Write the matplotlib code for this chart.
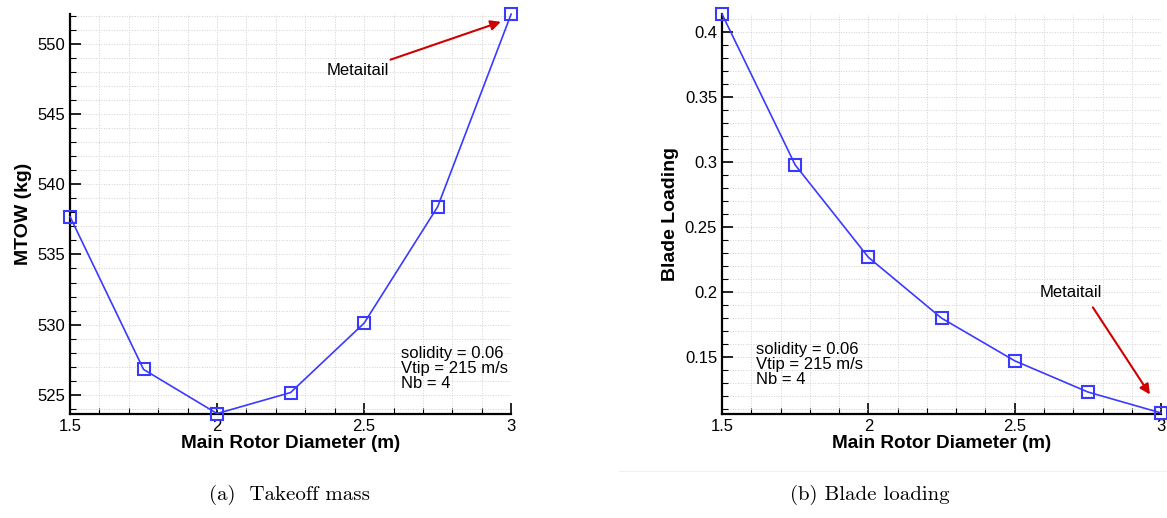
import numpy as np
import matplotlib.pyplot as plt
from matplotlib.ticker import MultipleLocator, FormatStrFormatter

# Data
diameter = [1.5, 1.75, 2.0, 2.25, 2.5, 2.75, 3.0]
mtow = [537.7, 526.8, 523.65, 525.15, 530.1, 538.4, 552.15]
blade_loading = [0.4135, 0.2975, 0.2265, 0.1797, 0.1469, 0.1229, 0.1068]
note = "solidity = 0.06\nVtip = 215 m/s\nNb = 4"

plt.rcParams['font.family'] = ['Liberation Sans', 'DejaVu Sans']

fig = plt.figure(figsize=(11.67, 5.18), dpi=100)
ax1 = fig.add_axes([0.0600, 0.2008, 0.3780, 0.7720])
ax2 = fig.add_axes([0.6187, 0.2008, 0.3762, 0.7720])

blue = '#3a3aff'

def style(ax, ymaj, ymin):
    for s in ['top', 'right']:
        ax.spines[s].set_visible(False)
    for s in ['left', 'bottom']:
        ax.spines[s].set_linewidth(1.6)
    ax.set_xlim(1.5, 3.0)
    ax.xaxis.set_major_locator(MultipleLocator(0.5))
    ax.xaxis.set_minor_locator(MultipleLocator(0.1))
    ax.yaxis.set_major_locator(MultipleLocator(ymaj))
    ax.yaxis.set_minor_locator(MultipleLocator(ymin))
    ax.xaxis.set_major_formatter(FormatStrFormatter('%g'))
    ax.yaxis.set_major_formatter(FormatStrFormatter('%g'))
    ax.tick_params(which='major', direction='in', length=8, width=1.2, labelsize=12)
    ax.tick_params(which='minor', direction='in', length=4, width=0.8)
    ax.grid(which='both', color='#d0d0d0', linestyle=':', linewidth=0.7)
    ax.set_axisbelow(True)
    ax.set_xlabel('Main Rotor Diameter (m)', fontsize=13.6, fontweight='bold', labelpad=1)

# (a) takeoff mass
ax1.plot(diameter, mtow, color=blue, lw=1.2, marker='s', ms=9, mfc='none',
         mec=blue, mew=1.5, clip_on=False, zorder=3)
style(ax1, 5, 1)
ax1.set_ylim(523.62, 552.15)
ax1.set_ylabel('MTOW (kg)', fontsize=14, fontweight='bold', labelpad=4)
ax1.annotate('Metaitail', xy=(2.965, 551.6), xytext=(2.585, 548.1),
             ha='right', va='center', fontsize=12,
             arrowprops=dict(arrowstyle='-|>', color='#d00000', lw=1.5,
                             mutation_scale=15, shrinkA=2, shrinkB=0))
ax1.text(2.625, 528.5, note, fontsize=12, ha='left', va='top', linespacing=1.0)

# (b) blade loading
ax2.plot(diameter, blade_loading, color=blue, lw=1.2, marker='s', ms=9, mfc='none',
         mec=blue, mew=1.5, clip_on=False, zorder=3)
style(ax2, 0.05, 0.01)
ax2.set_ylim(0.106, 0.4135)
ax2.set_ylabel('Blade Loading', fontsize=14, fontweight='bold', labelpad=4)
ax2.annotate('', xy=(2.962, 0.121), xytext=(2.767, 0.188),
             arrowprops=dict(arrowstyle='-|>', color='#d00000', lw=1.5,
                             mutation_scale=15, shrinkA=0, shrinkB=0))
ax2.text(2.692, 0.1995, 'Metaitail', fontsize=12, ha='center', va='center')
ax2.text(1.616, 0.1615, note, fontsize=12, ha='left', va='top', linespacing=1.0)

# captions
fig.text(0.2485, 0.025, '(a)  Takeoff mass', fontsize=15, family='cmr10',
         ha='center', va='bottom')
fig.text(0.7455, 0.025, '(b) Blade loading', fontsize=15, family='cmr10',
         ha='center', va='bottom')
fig.add_artist(plt.Line2D([0.53, 1.0], [0.09, 0.09], transform=fig.transFigure,
                          color='#f0f0f0', lw=0.8))

fig.savefig('out.png', dpi=100)
